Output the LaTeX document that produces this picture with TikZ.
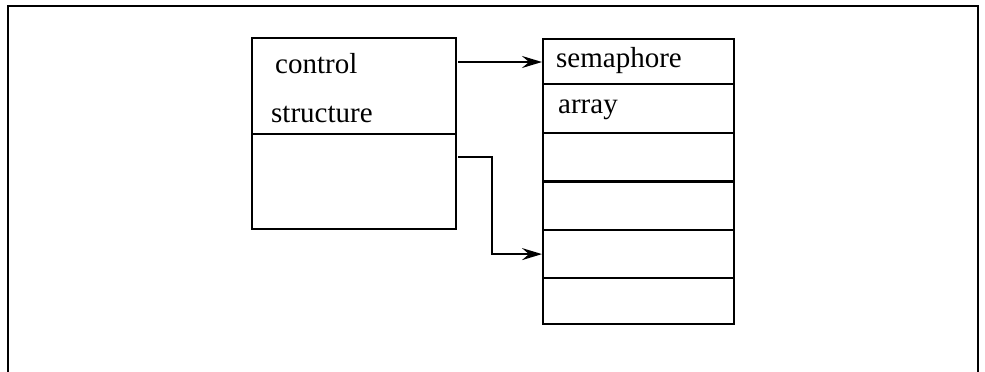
\documentclass[tikz,border=0pt]{standalone}
\usepackage{fontspec}
\setmainfont{Liberation Serif}
\usetikzlibrary{arrows.meta}
\begin{document}
\begin{tikzpicture}[x=1pt,y=-1pt,
  cell/.style={draw, line width=2.2pt, rectangle, inner sep=0pt, anchor=north west},
  label/.style={anchor=base west, inner sep=0pt, font=\fontsize{29}{34}\selectfont},
  link/.style={line width=2.2pt, -{Stealth[length=20pt,width=12pt,inset=7pt]}},
  frame/.style={line width=1.6pt}]
\useasboundingbox (0,0) rectangle (985,372);
% outer frame, open at the bottom
\coordinate (fbl) at (8,372);
\coordinate (ftl) at (8,6);
\coordinate (ftr) at (978,6);
\coordinate (fbr) at (978,372);
\draw[frame] (fbl) -- (ftl) -- (ftr) -- (fbr);
% control structure block
\node[cell, minimum width=204pt, minimum height=96pt] (ctltop) at (251,37) {};
\node[cell, minimum width=204pt, minimum height=95pt] (ctlbot) at (251,133) {};
\node[label] (tctl) at (275,73) {control};
\node[label] (tstr) at (271,122) {structure};
% semaphore array, six slots
\foreach \i/\y in {1/38,2/83,3/132,4/181,5/229,6/277}{
  \pgfmathsetmacro{\h}{\i==1 ? 45 : (\i==2 ? 49 : (\i==6 ? 46 : 48))}
  \node[cell, minimum width=191pt, minimum height=\h pt] (r\i) at (542,\y) {};
}
\node[label] (tsem) at (556,67) {semaphore};
\node[label] (tarr) at (558,113) {array};
% connectors
\coordinate (s1) at (458,62);
\coordinate (e1) at (r1.west |- s1);
\draw[link] (s1) -- (e1);
\coordinate (s2) at (458,157);
\coordinate (e2) at (r5.west);
\draw[link] (s2) -| (e2 -| 492,0) -- (e2);
\end{tikzpicture}
\end{document}
